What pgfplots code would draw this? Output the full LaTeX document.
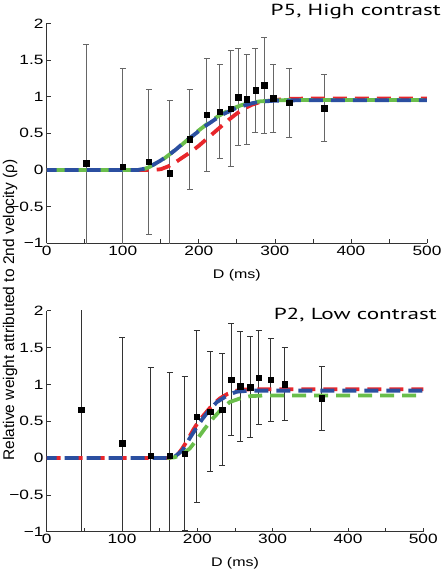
\documentclass[border=0pt]{standalone}
\usepackage{fontspec}
\setmainfont{Liberation Sans}[FakeStretch=1.28]
\newfontfamily\ylabfont{Liberation Sans}
\newfontfamily\titlefont{PT Sans}[FakeStretch=1.45]
\usepackage{pgfplots}
\pgfplotsset{compat=1.18}
\usepackage{pgfplotstable}
\definecolor{cred}{RGB}{232,38,43}
\definecolor{cblue}{RGB}{43,79,160}
\definecolor{cgreen}{RGB}{106,190,75}

\pgfplotstableread{
x y e
51.7 0.09 1.62
100.3 0.045 1.34
134.4 0.11 0.985
162 -0.045 0.995
188 0.42 0.68
210.6 0.75 0.77
227.7 0.795 0.64
242 0.836 0.79
251.8 0.995 0.665
262.7 0.964 0.615
274.5 1.086 0.575
285.9 1.155 0.655
298 0.977 0.46
319 0.914 0.465
365 0.845 0.46
}\topdata

\pgfplotstableread{
x y e
46 0.66 1.8
100.4 0.2 1.44
138 0.03 1.2
163.7 0.03 1.13
183 0.06 1.05
199 0.565 1.165
217 0.63 0.815
233 0.66 0.76
245 1.06 0.76
257 0.975 0.745
270 0.96 0.685
281.4 1.09 0.64
297.8 1.06 0.56
316 1.0 0.495
365.5 0.81 0.435
}\botdata

\pgfplotsset{
  myaxis/.style={
    scale only axis,
    xmin=0, xmax=500, ymin=-1, ymax=2,
    axis x line*=bottom, axis y line*=left,
    axis line style={-, line width=0.8pt, black!80},
    xtick={0,50,...,500},
    xticklabels={0,,100,,200,,300,,400,,500},
    ytick={-1,-0.5,0,0.5,1,1.5,2},
    yticklabels={−1,−0.5,0,0.5,1,1.5,2},
    tick align=inside,
    major tick length=4pt,
    tick style={line width=0.7pt, black!80},
    ticklabel style={font=\fontsize{13.5}{14}\selectfont},
    xticklabel style={inner sep=2.5pt},
    yticklabel style={inner sep=3pt},
    xlabel={D (ms)},
    xlabel style={at={(axis description cs:0.5,0)}, anchor=center, yshift=-31.5pt, font=\fontsize{12.5}{14}\selectfont},
    clip=true,
  },
  pts/.style={only marks, mark=square*, mark size=2.7pt, mark options={draw=black, fill=black},
    error bars/.cd, y dir=both, y explicit,
    error bar style={line width=1pt, #1},
    error mark options={rotate=90, mark size=3pt, line width=1pt, #1}},
  fitline/.style={no marks, line width=3.8pt, #1},
}

\begin{document}
\begin{tikzpicture}[x=1pt,y=1pt]
\path[use as bounding box] (0pt,0pt) rectangle (443pt,574pt);

\begin{axis}[myaxis, at={(46.7pt,330.7pt)}, anchor=south west, width=380.3pt, height=220pt]
\addplot[pts=black!60] table[x=x, y=y, y error=e] {\topdata};
\addplot[fitline=cred, dash pattern=on 14pt off 8pt, dash phase=0pt] coordinates {
(0,0) (140,0) (150,0.01) (160,0.05) (170,0.11) (180,0.18) (190,0.25) (200,0.33) (210,0.42) (220,0.51) (230,0.6) (240,0.69) (250,0.77) (260,0.84) (270,0.89) (280,0.925) (300,0.955) (320,0.97) (350,0.975) (500,0.975)};
\addplot[fitline=cgreen, dash pattern=on 14pt off 8pt, dash phase=13pt] coordinates {
(0,0) (125,0) (135,0.04) (145,0.1) (155,0.16) (165,0.24) (175,0.32) (185,0.41) (195,0.5) (205,0.58) (215,0.66) (225,0.73) (235,0.79) (245,0.84) (255,0.88) (265,0.91) (280,0.935) (300,0.95) (330,0.955) (500,0.955)};
\addplot[fitline=cblue, dash pattern=on 14pt off 8pt, dash phase=4pt] coordinates {
(0,0) (120,0) (130,0.02) (140,0.07) (150,0.13) (160,0.2) (170,0.28) (180,0.37) (190,0.45) (200,0.53) (210,0.61) (220,0.68) (230,0.75) (240,0.8) (250,0.85) (260,0.88) (270,0.91) (280,0.93) (300,0.945) (330,0.95) (500,0.95)};
\end{axis}

\begin{axis}[myaxis, at={(46.7pt,42.3pt)}, anchor=south west, width=376.6pt, height=221pt]
\addplot[pts=black!80] table[x=x, y=y, y error=e] {\botdata};
\addplot[fitline=cred, dash pattern=on 14pt off 8pt, dash phase=0pt] coordinates {
(0,0) (165,0) (170,0.02) (175,0.06) (180,0.13) (185,0.21) (190,0.3) (195,0.39) (200,0.47) (205,0.54) (210,0.6) (215,0.66) (220,0.72) (230,0.81) (240,0.87) (250,0.91) (260,0.93) (280,0.935) (500,0.935)};
\addplot[fitline=cblue, dash pattern=on 14pt off 8pt, dash phase=4pt] coordinates {
(0,0) (165,0) (170,0.02) (180,0.1) (190,0.27) (200,0.43) (206,0.52) (215,0.64) (226,0.76) (240,0.85) (252,0.9) (270,0.915) (500,0.915)};
\addplot[fitline=cgreen, dash pattern=on 14pt off 8pt, dash phase=4pt] coordinates {
(160,0) (170,0.01) (180,0.05) (190,0.13) (200,0.26) (210,0.4) (220,0.53) (230,0.64) (243,0.76) (257,0.81) (270,0.84) (290,0.85) (500,0.85)};
\end{axis}

\node[rotate=90, font=\ylabfont\fontsize{15.5}{16}\selectfont] at (10pt,264pt) {Relative weight attributed to 2nd velocity (ρ)};
\node[anchor=east, inner sep=0pt, font=\titlefont\fontsize{16}{17}\selectfont] at (441pt,562pt) {P5, High contrast};
\node[anchor=east, inner sep=0pt, font=\titlefont\fontsize{16}{17}\selectfont] at (437pt,259pt) {P2, Low contrast};
\end{tikzpicture}
\end{document}
